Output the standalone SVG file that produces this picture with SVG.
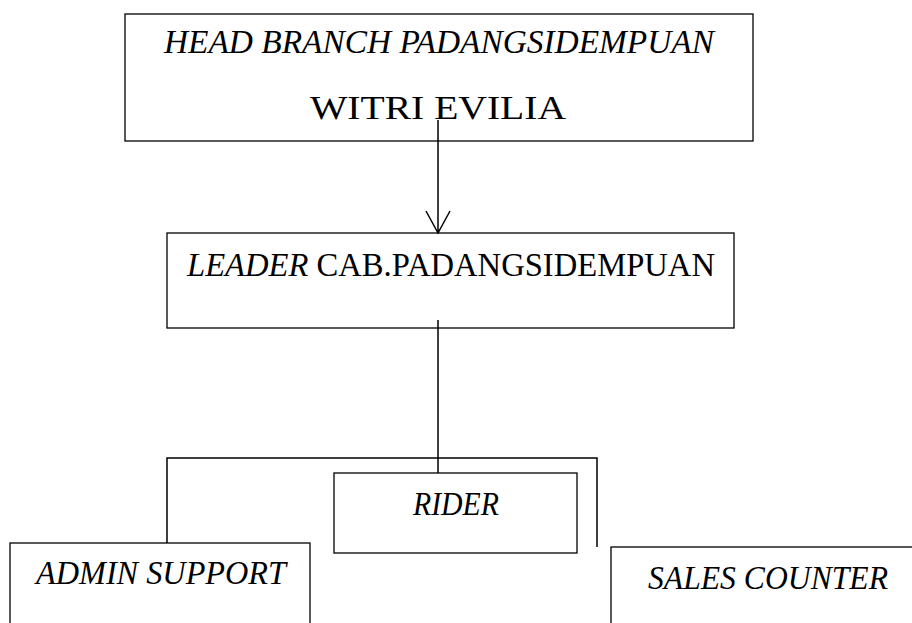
<svg xmlns="http://www.w3.org/2000/svg" width="912" height="623" viewBox="0 0 912 623">
<style>
.box{fill:#fff;stroke:#000;stroke-width:1.3}
.t{font-family:'Liberation Serif','Times New Roman',serif;font-size:33px;fill:#000}
.i{font-style:italic}
.c{fill:none;stroke:#000;stroke-width:1.5}
</style>
<rect width="912" height="623" fill="#fff"/>
<g id="head">
<rect class="box" x="125" y="14" width="628" height="127"/>
<text class="t i" x="164" y="53" textLength="550" lengthAdjust="spacingAndGlyphs">HEAD BRANCH PADANGSIDEMPUAN</text>
<text class="t" x="310" y="119" textLength="256" lengthAdjust="spacingAndGlyphs">WITRI EVILIA</text>
</g>
<g id="leader">
<rect class="box" x="167" y="233" width="567" height="95"/>
<text class="t" x="187" y="276" textLength="528" lengthAdjust="spacingAndGlyphs"><tspan class="i">LEADER</tspan> CAB.PADANGSIDEMPUAN</text>
</g>
<g id="admin">
<rect class="box" x="10" y="543" width="300" height="90"/>
<text class="t i" x="36" y="584" textLength="250" lengthAdjust="spacingAndGlyphs">ADMIN SUPPORT</text>
</g>
<g id="rider">
<rect class="box" x="334" y="473" width="243" height="80"/>
<text class="t i" x="413" y="515" textLength="86" lengthAdjust="spacingAndGlyphs">RIDER</text>
</g>
<g id="sales">
<rect class="box" x="611" y="547" width="310" height="90"/>
<text class="t i" x="648" y="589" textLength="240" lengthAdjust="spacingAndGlyphs">SALES COUNTER</text>
</g>
<g id="connectors">
<path class="c" d="M438 120V233M426 211L438 233L450 211"/>
<path class="c" d="M438 320V473M167 543V458H597V547"/>
</g>
</svg>
